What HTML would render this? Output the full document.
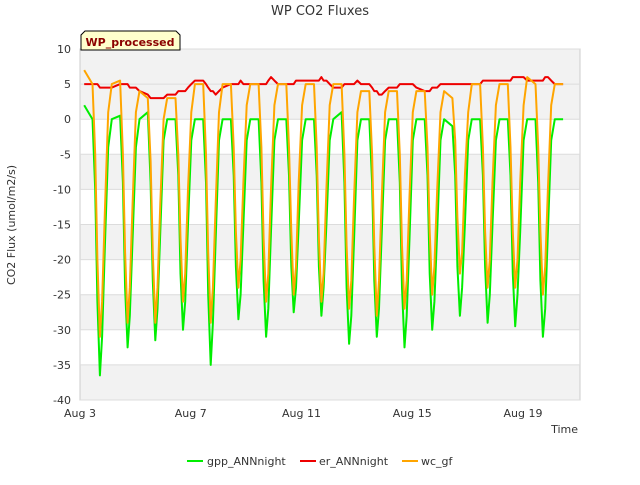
<!DOCTYPE html>
<html><head><meta charset="utf-8"><style>
body{margin:0;background:#fff;font-family:"Liberation Sans","DejaVu Sans",sans-serif;}
</style></head><body>
<svg id="chart" width="640" height="480" xmlns="http://www.w3.org/2000/svg" font-family="DejaVu Sans, Liberation Sans, sans-serif">
<text x="320" y="15" text-anchor="middle" font-size="13" fill="#333">WP CO2 Fluxes</text>
<g id="bands"></g>
<rect x="80" y="49" width="500" height="351" fill="none" stroke="#ccc"/>
<g id="yticks"></g><g id="xticks"></g><g id="series"></g>
<text x="15" y="225" transform="rotate(-90 15 225)" text-anchor="middle" font-size="11" fill="#333">CO2 Flux (umol/m2/s)</text>
<text x="578" y="433" text-anchor="end" font-size="11" fill="#333">Time</text>
<g>
<path d="M81 50 L81 35 L85 31 L176 31 L180 35 L180 50 Z" fill="#ffffcc" stroke="#000"/>
<text x="130" y="46" text-anchor="middle" font-size="11" font-weight="bold" fill="#8b0000">WP_processed</text></g>
<g>
<g><line x1="187" y1="461" x2="203" y2="461" stroke="#00ee00" stroke-width="2"/><text x="207" y="465" font-size="11" fill="#333">gpp_ANNnight</text></g>
<g><line x1="300" y1="461" x2="316" y2="461" stroke="#ee0000" stroke-width="2"/><text x="319" y="465" font-size="11" fill="#333">er_ANNnight</text></g>
<g><line x1="402" y1="461" x2="418" y2="461" stroke="#ffa500" stroke-width="2"/><text x="421" y="465" font-size="11" fill="#333">wc_gf</text></g>
</g>
</svg>
<script>
const yTicks=[10,5,0,-5,-10,-15,-20,-25,-30,-35,-40];
const xTickDays=[3,7,11,15,19];
const xTickLabels=["Aug 3","Aug 7","Aug 11","Aug 15","Aug 19"];
const startDay=3;
const dayOffsets=[0.15,0.45,0.55,0.63,0.72,0.8,0.9,1.02];
const gpp=[
2,0,-10,-26,-36.5,-31,-18,-4,
0,0.5,-9,-24,-32.5,-28,-17,-4,
0,1,-9,-23,-31.5,-27,-16,-3,
0,0,-8,-22,-30,-26,-15,-3,
0,0,-9,-25,-35,-29,-17,-3,
0,0,-8,-21,-28.5,-25,-15,-3,
0,0,-9,-23,-31,-27,-16,-3,
0,0,-8,-21,-27.5,-24,-15,-3,
0,0,-8,-21,-28,-24,-15,-3,
0,1,-9,-24,-32,-28,-17,-3,
0,0,-9,-23,-31,-27,-16,-3,
0,0,-9,-24,-32.5,-28,-17,-3,
0,0,-8,-22,-30,-26,-16,-3,
0,-1,-8,-21,-28,-24,-15,-3,
0,0,-8,-21,-29,-25,-15,-3,
0,0,-8,-22,-29.5,-25,-16,-3,
0,0,-9,-23,-31,-27,-16,-3,
0,0];
const er=[
5,5,5,5,4.5,4.5,4.5,4.5,
4.5,5,5,5,5,4.5,4.5,4.5,
4,3.5,3,3,3,3,3,3,
3.5,3.5,4,4,4,4,4.5,5,
5.5,5.5,5,4.5,4,4,3.5,4,
4.5,5,5,5,5,5.5,5,5,
5,5,5,5,5,5.5,6,5.5,
5,5,5,5,5,5.5,5.5,5.5,
5.5,5.5,5.5,5.5,6,5.5,5.5,5,
4.5,4.5,5,5,5,5,5,5.5,
5,5,4.5,4,4,3.5,3.5,4,
4.5,4.5,5,5,5,5,5,5,
4.5,4,4,4,4.5,4.5,4.5,5,
5,5,5,5,5,5,5,5,
5,5,5.5,5.5,5.5,5.5,5.5,5.5,
5.5,5.5,5.5,6,6,6,6,6,
5.5,5.5,5.5,5.5,5.5,6,6,5.5,
5,5];
const wc=[
7,5,-5,-20,-31,-26,-13,1,
5,5.5,-5,-19,-29,-24,-12,1,
4,3,-6,-19,-29,-24,-12,0,
3,3,-5,-17,-26,-22,-10,1,
5,5,-5,-19,-29,-24,-12,1,
5,5,-4,-16,-24,-20,-9,2,
5,5,-4,-17,-26,-22,-10,2,
5,5,-4,-16,-25,-21,-9,2,
5,5,-4,-17,-26,-22,-10,2,
5,5,-5,-18,-27,-23,-11,1,
4,4,-5,-18,-28,-23,-11,1,
4,4,-5,-18,-27,-23,-11,1,
4,4,-4,-16,-25,-21,-10,1,
4,3,-3,-14,-22,-19,-8,1,
5,5,-4,-16,-24,-20,-9,2,
5,5,-4,-16,-24,-20,-9,2,
6,5,-4,-16,-25,-21,-10,2,
5,5];
const X0=80,X1=580,Y0=400,Y1=49;
const xs=d=>X0+(d-3)*(443/16);
const ys=v=>Y0-(v+40)*(Y0-Y1)/50;
const NS="http://www.w3.org/2000/svg";
function mk(tag,attrs,parent){const e=document.createElementNS(NS,tag);for(const k in attrs)e.setAttribute(k,attrs[k]);parent.appendChild(e);return e;}
const bands=document.getElementById('bands');
for(let i=0;i<yTicks.length-1;i++){
  const top=yTicks[i],bot=yTicks[i+1];
  const gray=(i%2===1)||i===0;
  const r=mk('rect',{x:X0,y:ys(top),width:X1-X0,height:ys(bot)-ys(top),fill:gray?'#f2f2f2':'#ffffff'},bands);
  
  
}
const yt=document.getElementById('yticks');
yTicks.forEach(v=>{
  const l=mk('line',{x1:X0,x2:X1,y1:ys(v),y2:ys(v),stroke:'#dcdcdc'},yt);
  
  
  const t=mk('text',{x:71,y:ys(v)+4,'text-anchor':'end','font-size':11,fill:'#333'},yt);
  t.textContent=v;
  
  
});
const xt=document.getElementById('xticks');
xTickDays.forEach((d,i)=>{
  const t=mk('text',{x:xs(d),y:417,'text-anchor':'middle','font-size':11,fill:'#333'},xt);
  t.textContent=xTickLabels[i];
  
  
});
function timeAt(i){return startDay+Math.floor(i/dayOffsets.length)+dayOffsets[i%dayOffsets.length];}
const sg=document.getElementById('series');
function draw(arr,color,name){
  const d=arr.map((v,i)=>(i?'L':'M')+xs(timeAt(i)).toFixed(1)+' '+ys(v).toFixed(1)).join(' ');
  const p=mk('path',{d:d,fill:'none',stroke:color,'stroke-width':2,'stroke-linejoin':'round'},sg);
  
  
}
draw(gpp,'#00ee00','gpp-line');
draw(er,'#ee0000','er-line');
draw(wc,'#ffa500','wc-line');
</script>
</body></html>
